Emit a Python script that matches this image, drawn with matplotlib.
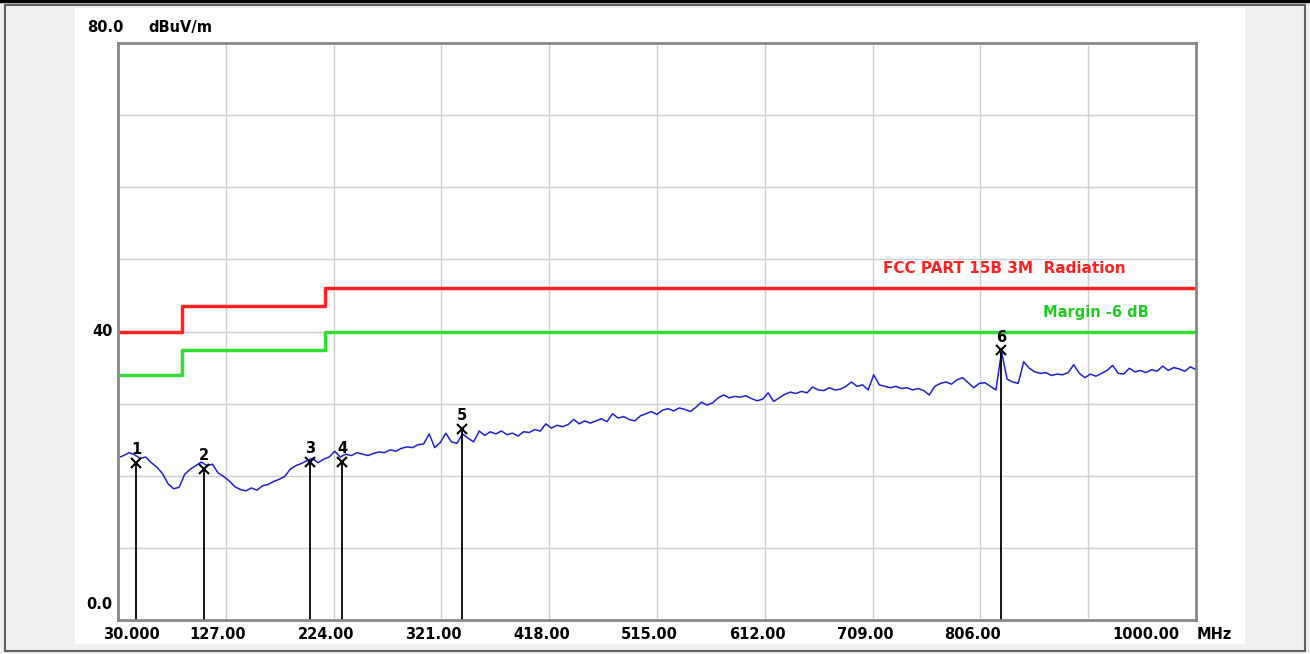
import matplotlib.pyplot as plt
import numpy as np
from matplotlib.patches import Rectangle

# sweep: 30 MHz .. 1000 MHz, 5 MHz step
sweep_start, sweep_stop, sweep_step = 30, 1000, 5
level = [
    22.5, 22.8, 23.2, 22.9, 22.4, 22.6, 21.8, 21.2, 20.3, 18.9,
    18.2, 18.4, 20.2, 20.9, 21.4, 21.9, 21.4, 21.6, 20.4, 19.9,
    19.3, 18.5, 18.1, 17.9, 18.3, 18.0, 18.6, 18.8, 19.2, 19.5,
    19.9, 20.9, 21.4, 21.7, 22.1, 22.4, 21.8, 22.3, 22.6, 23.4,
    22.6, 23.0, 22.8, 23.2, 23.0, 22.8, 23.1, 23.3, 23.2, 23.6,
    23.4, 23.8, 24.0, 23.9, 24.3, 24.4, 25.8, 23.9, 24.6, 25.9,
    24.7, 24.5, 25.8, 25.2, 24.7, 26.2, 25.6, 26.1, 25.8, 26.2,
    25.7, 25.9, 25.5, 26.1, 26.0, 26.4, 26.2, 27.2, 26.6, 27.0,
    26.8, 27.1, 27.8, 27.2, 27.6, 27.3, 27.6, 27.9, 27.5, 28.6,
    28.0, 28.2, 27.8, 27.6, 28.3, 28.6, 28.9, 28.5, 29.1, 29.3,
    29.0, 29.4, 29.2, 28.9, 29.5, 30.2, 29.8, 30.1, 30.8, 31.2,
    30.8, 31.0, 30.9, 31.1, 30.7, 30.4, 30.6, 31.5, 30.3, 30.8,
    31.3, 31.6, 31.4, 31.7, 31.5, 32.3, 31.9, 31.8, 32.2, 31.9,
    32.0, 32.4, 33.0, 32.4, 32.6, 31.9, 34.0, 32.6, 32.4, 32.2,
    32.4, 32.1, 32.2, 31.9, 32.1, 31.8, 31.2, 32.4, 32.8, 33.0,
    32.7, 33.3, 33.6, 32.9, 32.2, 32.8, 32.9, 32.4, 31.9, 37.2,
    33.4, 33.0, 32.8, 35.8, 34.9, 34.4, 34.2, 34.3, 33.9, 34.1,
    34.0, 34.3, 35.4, 34.2, 33.6, 34.1, 33.8, 34.2, 34.6, 35.3,
    34.2, 34.1, 34.9, 34.4, 34.6, 34.3, 34.7, 34.5, 35.2, 34.6,
    35.0, 34.8, 34.5, 35.1, 34.7,
]
freq = np.arange(sweep_start, sweep_stop + 1, sweep_step)

# FCC part 15B class B limit (3 m)
limit_freq = [30, 88, 216, 1000]
limit_level = [40.0, 43.5, 46.0, 46.0]
margin_db = 6.0

# peak markers
marker_id = ['1', '2', '3', '4', '5', '6']
marker_freq = [46.2, 107.5, 202.8, 231.6, 339.6, 824.8]
marker_level = [21.8, 21.0, 21.9, 21.9, 26.5, 37.4]

xticks = [30, 127, 224, 321, 418, 515, 612, 709, 806, 903, 1000]
xlabels = ['30.000', '127.00', '224.00', '321.00', '418.00', '515.00',
           '612.00', '709.00', '806.00', '', '1000.00']

W, H = 1310, 654
fig = plt.figure(figsize=(W / 100, H / 100), dpi=100)
fig.patch.set_facecolor('#f0f0f0')

# window frame
fig.add_artist(Rectangle((75 / W, 10 / H), 1170 / W, 636 / H, transform=fig.transFigure,
                         facecolor='white', edgecolor='none', zorder=0))
fig.add_artist(Rectangle((5 / W, 3 / H), 1300 / W, 646 / H, transform=fig.transFigure,
                         facecolor='none', edgecolor='#606060', lw=1.5, zorder=1))
fig.add_artist(plt.Line2D([0, 1], [1 - 1 / H, 1 - 1 / H], transform=fig.transFigure,
                          color='black', lw=2.5))

ax = fig.add_axes([118 / W, 1 - 620 / H, 1078 / W, 577 / H])
ax.set_xlim(30, 1000)
ax.set_ylim(0, 80)

for x in xticks[1:-1]:
    ax.axvline(x, color='#cfcfcf', lw=1, zorder=0)
for y in range(10, 80, 10):
    ax.axhline(y, color='#cfcfcf', lw=1, zorder=0)

ax.plot(limit_freq, limit_level, drawstyle='steps-post', color='#ff2222', lw=2.5)
ax.plot(limit_freq, [v - margin_db for v in limit_level], drawstyle='steps-post',
        color='#33dd33', lw=2.5)
ax.plot(freq, level, color='#2020d0', lw=1.1)

for mid, mf, ml in zip(marker_id, marker_freq, marker_level):
    ax.plot([mf, mf], [0, ml], color='black', lw=1.3)
    ax.plot(mf, ml, marker='x', color='black', ms=7, mew=1.5)
    ax.annotate(mid, (mf, ml), xytext=(0, 4), textcoords='offset points',
                ha='center', va='bottom', fontsize=10.5, fontweight='bold')

ax.text(718, 48.7, 'FCC PART 15B 3M  Radiation', color='#ff2222', fontsize=11,
        fontweight='bold', va='center', ha='left')
ax.text(862, 42.7, 'Margin -6 dB', color='#22cc22', fontsize=10.5,
        fontweight='bold', va='center', ha='left')

ax.set_xticks([])
ax.set_yticks([])
for s in ax.spines.values():
    s.set_color('#888888')
    s.set_linewidth(2)

tk = dict(fontsize=10.5, fontweight='bold', va='center', clip_on=False)
for x, lab in zip(xticks, xlabels):
    if x == 30:
        ax.text(16.5, -2.0, lab, ha='left', **tk)
    elif x == 1000:
        ax.text(985.5, -2.0, lab, ha='right', **tk)
    else:
        ax.text(x - 7, -2.0, lab, ha='center', **tk)
ax.text(1001, -2.0, 'MHz', ha='left', **tk)
ax.text(25.5, 40, '40', ha='right', **tk)
ax.text(24.6, 2.2, '0.0', ha='right', **tk)
ax.text(34.5, 82.2, '80.0', ha='right', **tk)
ax.text(57, 82.2, 'dBuV/m', ha='left', **tk)

fig.savefig('out.png', dpi=100, facecolor=fig.get_facecolor())
